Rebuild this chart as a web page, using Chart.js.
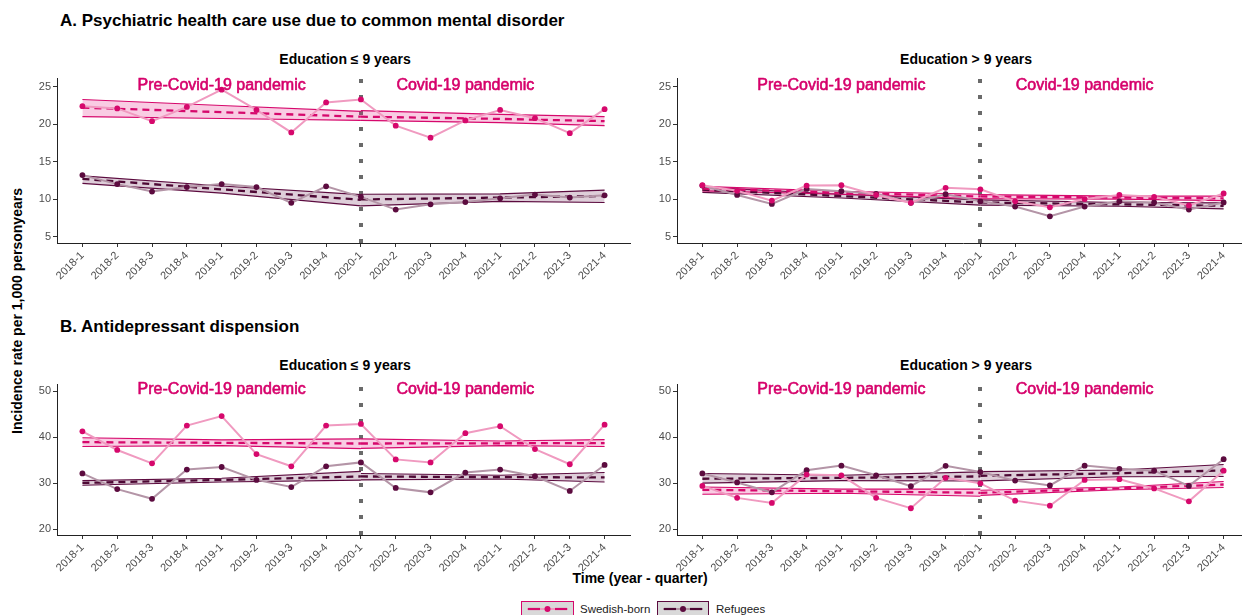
<!DOCTYPE html>
<html><head><meta charset="utf-8">
<script src="https://cdn.jsdelivr.net/npm/chart.js@4.4.1/dist/chart.umd.min.js"></script>
<style>
html,body{margin:0;padding:0;width:1242px;height:615px;overflow:hidden;background:#fff;font-family:"Liberation Sans",Arial,sans-serif;}
.abs{position:absolute;white-space:nowrap;line-height:20px;}
.title{font-weight:bold;font-size:17px;color:#000;}
.ptitle{font-weight:bold;font-size:14px;color:#000;transform:translateX(-50%);}
.axt{font-weight:bold;font-size:14px;color:#000;}
.wrap{position:absolute;}
.leg{position:absolute;top:601px;height:20px;background:#d9d9d9;box-sizing:border-box;}
.legt{position:absolute;font-size:11.5px;color:#222;line-height:14px;top:602px;}
</style></head><body>

<div class="abs title" style="left:60px;top:11px;">A. Psychiatric health care use due to common mental disorder</div>
<div class="abs ptitle" style="left:345px;top:49px;">Education ≤ 9 years</div>
<div class="abs ptitle" style="left:966px;top:49px;">Education &gt; 9 years</div>
<div class="abs title" style="left:60px;top:317px;">B. Antidepressant dispension</div>
<div class="abs ptitle" style="left:345px;top:355px;">Education ≤ 9 years</div>
<div class="abs ptitle" style="left:966px;top:355px;">Education &gt; 9 years</div>
<div class="abs axt" style="left:17px;top:311px;transform:translate(-50%,-50%) rotate(-90deg);">Incidence rate per 1,000 personyears</div>
<div class="abs axt" style="left:640px;top:568px;transform:translateX(-50%);">Time (year - quarter)</div>

<div class="wrap" style="left:17px;top:70px;"><canvas id="cA1" width="617" height="225"></canvas></div>
<div class="wrap" style="left:640px;top:70px;"><canvas id="cA2" width="613" height="225"></canvas></div>
<div class="wrap" style="left:17px;top:376px;"><canvas id="cB1" width="617" height="211"></canvas></div>
<div class="wrap" style="left:640px;top:376px;"><canvas id="cB2" width="613" height="211"></canvas></div>

<div class="leg" style="left:521px;width:53px;border:1px solid #D6086C;">
<svg width="51" height="18" style="position:absolute;left:0;top:0;">
<line x1="5" y1="7" x2="46" y2="7" stroke="#F09AC0" stroke-width="2"/>
<line x1="6" y1="7" x2="18" y2="7" stroke="#D6086C" stroke-width="2.2"/>
<line x1="33" y1="7" x2="45" y2="7" stroke="#D6086C" stroke-width="2.2"/>
<circle cx="25.5" cy="7" r="3" fill="#D6086C"/>
</svg></div>
<div class="legt" style="left:580px;">Swedish-born</div>
<div class="leg" style="left:657px;width:52px;border:1px solid #5C0B3F;">
<svg width="50" height="18" style="position:absolute;left:0;top:0;">
<line x1="5" y1="7" x2="45" y2="7" stroke="#B495A7" stroke-width="2"/>
<line x1="6" y1="7" x2="18" y2="7" stroke="#4D0834" stroke-width="2.2"/>
<line x1="32" y1="7" x2="44" y2="7" stroke="#4D0834" stroke-width="2.2"/>
<circle cx="25" cy="7" r="3" fill="#5C0B3F"/>
</svg></div>
<div class="legt" style="left:716px;">Refugees</div>

<script>
// ---------- data ----------
const quarters = ['2018-1','2018-2','2018-3','2018-4','2019-1','2019-2','2019-3','2019-4',
                  '2020-1','2020-2','2020-3','2020-4','2021-1','2021-2','2021-3','2021-4'];
const pandemicStart = '2020-1';
const periodLabels = ['Pre-Covid-19 pandemic', 'Covid-19 pandemic'];
const periodLabelAt = ['2019-1', '2020-4'];
const yTicksA = [5, 10, 15, 20, 25];
const yTicksB = [20, 30, 40, 50];
// quarter positions where trend / confidence band values were read (pre: 3 values, post: 3 values)
const trendQuarters = ['2018-1','2019-1','2020-1','2020-1','2021-1','2021-4'];

// A. Psychiatric care, education <= 9 years
const aLowSwe = [22.4, 22.1, 20.4, 22.3, 24.6, 21.9, 18.9, 22.9, 23.3, 19.8, 18.2, 20.5, 21.9, 20.8, 18.8, 22.0];
const aLowRef = [13.2, 12.0, 11.0, 11.6, 12.0, 11.6, 9.5, 11.7, 10.3, 8.6, 9.3, 9.6, 10.1, 10.6, 10.2, 10.5];
const aLowSweFit = [22.2, 21.6, 21.0, 21.0, 20.7, 20.4];
const aLowSweLo  = [21.0, 20.75, 20.5, 20.5, 20.2, 19.8];
const aLowSweHi  = [23.3, 22.5, 21.7, 21.8, 21.3, 21.0];
const aLowRefFit = [12.7, 11.3, 9.9, 9.95, 10.2, 10.4];
const aLowRefLo  = [12.1, 10.8, 9.1, 9.1, 9.7, 9.55];
const aLowRefHi  = [13.1, 11.75, 10.6, 10.65, 10.7, 11.2];

// A. Psychiatric care, education > 9 years
const aHighSwe = [11.85, 11.1, 9.8, 11.8, 11.85, 10.55, 9.5, 11.5, 11.3, 9.7, 8.9, 10.0, 10.55, 10.3, 9.15, 10.75];
const aHighRef = [11.8, 10.55, 9.35, 11.35, 11.05, 10.7, 9.5, 10.65, 9.7, 9.0, 7.7, 9.0, 9.7, 9.55, 8.6, 9.55];
const aHighSweFit = [11.4, 10.85, 10.35, 10.35, 10.2, 10.1];
const aHighSweLo  = [11.1, 10.65, 10.05, 10.05, 10.0, 9.8];
const aHighSweHi  = [11.7, 11.05, 10.65, 10.6, 10.4, 10.4];
const aHighRefFit = [11.25, 10.4, 9.55, 9.55, 9.3, 9.1];
const aHighRefLo  = [10.9, 10.15, 9.2, 9.2, 9.05, 8.7];
const aHighRefHi  = [11.6, 10.65, 9.9, 9.9, 9.55, 9.5];

// B. Antidepressants, education <= 9 years
const bLowSwe = [41.3, 37.25, 34.35, 42.55, 44.6, 36.35, 33.7, 42.55, 42.9, 35.2, 34.55, 40.9, 42.4, 37.45, 34.15, 42.75];
const bLowRef = [32.15, 28.75, 26.65, 33.0, 33.55, 30.75, 29.2, 33.7, 34.55, 29.0, 28.05, 32.35, 33.0, 31.55, 28.35, 34.0];
const bLowSweFit = [38.95, 38.8, 38.65, 38.65, 38.7, 38.75];
const bLowSweLo  = [38.0, 38.2, 37.55, 37.6, 38.2, 38.0];
const bLowSweHi  = [39.9, 39.45, 39.65, 39.65, 39.2, 39.5];
const bLowRefFit = [30.1, 30.75, 31.5, 31.5, 31.35, 31.3];
const bLowRefLo  = [29.6, 30.3, 30.7, 30.75, 30.95, 30.3];
const bLowRefHi  = [30.6, 31.1, 32.6, 32.15, 31.75, 32.35];

// B. Antidepressants, education > 9 years
const bHighSwe = [29.45, 26.85, 25.75, 31.9, 31.75, 26.85, 24.6, 31.2, 30.0, 26.25, 25.15, 30.75, 30.9, 28.9, 26.1, 32.75];
const bHighRef = [32.15, 30.2, 28.05, 32.85, 33.85, 31.75, 29.4, 33.8, 32.45, 30.6, 29.55, 33.85, 33.15, 32.75, 29.45, 35.25];
const bHighSweFit = [28.6, 28.3, 27.95, 27.95, 28.9, 29.75];
const bHighSweLo  = [27.65, 27.85, 27.2, 27.4, 28.6, 29.1];
const bHighSweHi  = [29.2, 28.75, 28.75, 28.5, 29.2, 30.4];
const bHighRefFit = [31.0, 31.2, 31.5, 31.65, 32.2, 32.8];
const bHighRefLo  = [30.05, 30.6, 30.5, 30.55, 31.45, 31.5];
const bHighRefHi  = [32.15, 31.75, 32.5, 32.55, 32.9, 34.1];

// ---------- styles ----------
const FONT = '"Liberation Sans", Arial, sans-serif';
const pink = {point:'#D6086C', fit:'#D6086C', edge:'#D6086C', band:'rgba(231,41,138,0.24)', line:'#F09AC0'};
const plum = {point:'#5C0B3F', fit:'#4D0834', edge:'#5C0B3F', band:'rgba(92,11,63,0.2)', line:'#B495A7'};
const qi = q => quarters.indexOf(q);

function groupSets(obs, fit, lo, hi, col, base) {
  const sets = [];
  [[0,3],[3,6]].forEach(([a,b]) => {
    const xs = trendQuarters.slice(a,b).map(qi);
    const mk = arr => xs.map((x,i) => ({x, y: arr[a+i]}));
    sets.push({data: mk(lo), borderColor: col.edge, borderWidth: 1.1, pointRadius: 0, fill: false, order: base+3});
    sets.push({data: mk(hi), borderColor: col.edge, borderWidth: 1.1, pointRadius: 0, fill: '-1', backgroundColor: col.band, order: base+3});
    sets.push({data: mk(fit), borderColor: col.fit, borderWidth: 2.3, borderDash: [7,5], pointRadius: 0, fill: false, order: base+2});
  });
  sets.push({data: obs.map((v,i) => ({x: i, y: v})), borderColor: col.line, borderWidth: 2, pointRadius: 2.9,
             pointBackgroundColor: col.point, pointBorderWidth: 0, fill: false, order: base+1});
  return sets;
}

const deco = {
  id: 'deco',
  beforeDatasetsDraw(chart, args, o) {
    const {ctx, chartArea: {top, bottom}, scales: {x}} = chart;
    const px = Math.round(x.getPixelForValue(qi(pandemicStart)));
    ctx.save();
    ctx.strokeStyle = '#6a6a6a'; ctx.lineWidth = 4; ctx.setLineDash([4, 12]);
    ctx.beginPath(); ctx.moveTo(px, bottom); ctx.lineTo(px, top); ctx.stroke();
    ctx.restore();
  },
  afterDatasetsDraw(chart, args, o) {
    const {ctx, scales: {x, y}} = chart;
    ctx.save();
    ctx.font = '16px ' + FONT; ctx.fillStyle = '#D6006B'; ctx.strokeStyle = '#D6006B'; ctx.lineWidth = 0.6;
    ctx.textAlign = 'center'; ctx.textBaseline = 'middle';
    periodLabels.forEach((t, i) => {
      const px = x.getPixelForValue(qi(periodLabelAt[i])), py = y.getPixelForValue(o.labelY) - 1.5;
      ctx.fillText(t, px, py); ctx.strokeText(t, px, py);
    });
    ctx.restore();
  }
};

function makeChart(id, swe, ref, sweT, refT, yMin, yMax, yTicks, yW, labelY) {
  const datasets = [...groupSets(swe, sweT[0], sweT[1], sweT[2], pink, 0), ...groupSets(ref, refT[0], refT[1], refT[2], plum, 0)];
  new Chart(document.getElementById(id), {
    type: 'line',
    data: {datasets},
    plugins: [deco],
    options: {
      responsive: false, animation: false, devicePixelRatio: 1,
      layout: {padding: {top: 5, left: 0, right: 0, bottom: 0}},
      plugins: {legend: {display: false}, tooltip: {enabled: false}, deco: {labelY}},
      elements: {line: {tension: 0}},
      scales: {
        x: {
          type: 'linear', min: -0.73, max: 15.73,
          afterBuildTicks: s => { s.ticks = quarters.map((q, i) => ({value: i})); },
          afterFit: s => { s.height = 52; },
          ticks: {callback: (v, i) => quarters[i], minRotation: 45, maxRotation: 45, autoSkip: false,
                  color: '#4d4d4d', font: {family: FONT, size: 11}, padding: 2},
          grid: {display: true, drawOnChartArea: false, drawTicks: true, tickLength: 4, tickColor: '#333'},
          border: {display: true, color: '#222', width: 1}
        },
        y: {
          type: 'linear', min: yMin, max: yMax,
          afterBuildTicks: s => { s.ticks = yTicks.map(v => ({value: v})); },
          afterFit: s => { s.width = yW; },
          ticks: {color: '#4d4d4d', font: {family: FONT, size: 11}, padding: 2},
          grid: {display: true, drawOnChartArea: false, drawTicks: true, tickLength: 4, tickColor: '#333'},
          border: {display: true, color: '#222', width: 1}
        }
      }
    }
  });
}

makeChart('cA1', aLowSwe, aLowRef, [aLowSweFit, aLowSweLo, aLowSweHi], [aLowRefFit, aLowRefLo, aLowRefHi], 4.14, 26.08, yTicksA, 40, 25);
makeChart('cA2', aHighSwe, aHighRef, [aHighSweFit, aHighSweLo, aHighSweHi], [aHighRefFit, aHighRefLo, aHighRefHi], 4.14, 26.08, yTicksA, 37, 25);
makeChart('cB1', bLowSwe, bLowRef, [bLowSweFit, bLowSweLo, bLowSweHi], [bLowRefFit, bLowRefLo, bLowRefHi], 18.79, 51.44, yTicksB, 40, 50);
makeChart('cB2', bHighSwe, bHighRef, [bHighSweFit, bHighSweLo, bHighSweHi], [bHighRefFit, bHighRefLo, bHighRefHi], 18.79, 51.44, yTicksB, 37, 50);
</script>
</body></html>
